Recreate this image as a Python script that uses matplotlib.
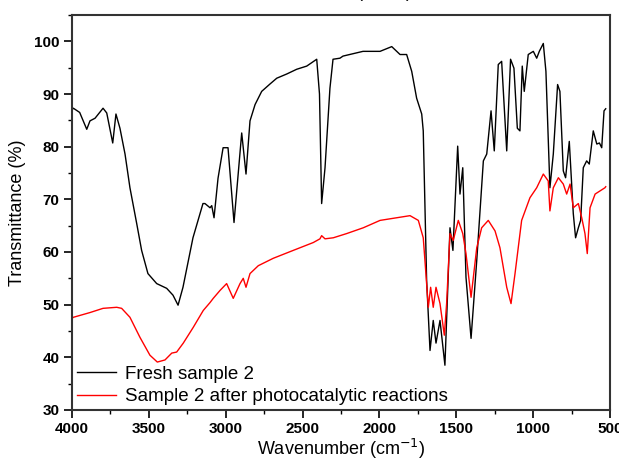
import matplotlib
matplotlib.use("Agg")
import matplotlib.pyplot as plt
from matplotlib.ticker import MultipleLocator

# --- data (wavenumber in cm-1, transmittance in %) ---
fresh_wn = [4000, 3991, 3950, 3904, 3883, 3850, 3798, 3774, 3735, 3714, 3688, 3655,
            3623, 3579, 3547, 3506, 3449, 3384, 3343, 3310, 3278, 3213, 3148, 3135,
            3102, 3091, 3076, 3050, 3017, 2985, 2946, 2896, 2868, 2842, 2809, 2766,
            2712, 2668, 2603, 2538, 2473, 2408, 2390, 2376, 2354, 2322, 2302, 2257,
            2237, 2107, 1996, 1920, 1866, 1823, 1790, 1758, 1725, 1715, 1693, 1671,
            1650, 1632, 1606, 1574, 1541, 1522, 1491, 1476, 1458, 1437, 1404, 1367,
            1324, 1302, 1274, 1253, 1227, 1205, 1172, 1147, 1125, 1103, 1086, 1071,
            1058, 1032, 999, 977, 960, 934, 917, 891, 869, 841, 826, 804, 789, 765,
            739, 724, 706, 691, 674, 652, 635, 609, 586, 569, 554, 539, 528]
fresh_t = [87.0, 87.3, 86.5, 83.3, 84.9, 85.4, 87.3, 86.4, 80.7, 86.2, 83.5, 78.6,
           72.2, 65.4, 60.3, 55.9, 54.0, 53.1, 51.8, 49.9, 53.3, 62.7, 69.2, 69.2,
           68.4, 68.8, 66.5, 74.0, 79.8, 79.8, 65.6, 82.6, 74.8, 84.9, 88.0, 90.5,
           91.9, 93.0, 93.8, 94.7, 95.3, 96.6, 90.0, 69.2, 76.0, 91.1, 96.6, 96.8,
           97.2, 98.1, 98.1, 99.0, 97.5, 97.5, 94.3, 89.2, 86.2, 83.0, 54.6, 41.3,
           47.0, 42.7, 47.0, 38.5, 64.6, 60.3, 80.1, 71.0, 76.0, 55.2, 43.6, 58.4,
           77.3, 78.6, 86.8, 79.2, 95.6, 96.2, 79.2, 96.6, 94.9, 83.5, 83.0, 95.3,
           90.5, 97.5, 98.1, 96.8, 98.1, 99.6, 94.3, 72.2, 78.6, 91.8, 90.5, 75.4,
           74.1, 81.0, 67.3, 62.7, 64.6, 66.0, 76.0, 77.3, 76.7, 83.0, 80.5, 80.7,
           79.8, 86.8, 87.2]

after_wn = [4000, 3991, 3883, 3798, 3709, 3677, 3623, 3558, 3493, 3445, 3395, 3351,
            3319, 3276, 3211, 3146, 3102, 3081, 3037, 2994, 2951, 2907, 2886, 2868,
            2842, 2788, 2691, 2561, 2430, 2387, 2376, 2354, 2300, 2213, 2105, 1996,
            1888, 1801, 1747, 1715, 1704, 1682, 1667, 1650, 1632, 1606, 1578, 1563,
            1541, 1520, 1487, 1458, 1437, 1404, 1367, 1335, 1292, 1248, 1216, 1172,
            1144, 1118, 1075, 1021, 977, 934, 902, 891, 869, 836, 804, 782, 760,
            739, 706, 684, 663, 648, 630, 597, 565, 533, 528]
after_t = [47.4, 47.6, 48.5, 49.3, 49.5, 49.3, 47.6, 43.8, 40.4, 39.1, 39.5, 40.8,
           41.0, 42.7, 45.7, 48.9, 50.4, 51.2, 52.7, 54.0, 51.2, 54.0, 55.0, 53.3,
           55.9, 57.4, 58.8, 60.3, 61.8, 62.5, 63.1, 62.5, 62.7, 63.5, 64.6, 66.0,
           66.5, 66.9, 66.0, 62.7, 58.4, 49.5, 53.3, 49.5, 53.3, 50.2, 44.2, 50.2,
           63.5, 62.2, 66.0, 63.5, 59.7, 51.4, 60.8, 64.6, 66.0, 64.0, 60.8, 53.3,
           50.2, 55.9, 66.0, 70.3, 72.2, 74.8, 73.5, 67.8, 72.2, 74.1, 72.9, 71.0,
           72.9, 68.4, 69.2, 66.5, 63.5, 59.7, 68.4, 71.0, 71.6, 72.2, 72.4]

labels = ["Fresh sample 2", "Sample 2 after photocatalytic reactions"]

# --- plot ---
fig = plt.figure(figsize=(6.19, 4.62), dpi=100)
ax = fig.add_axes([0.1163, 0.1126, 0.8692, 0.8549])

ax.plot(fresh_wn, fresh_t, color="black", lw=1.0, label=labels[0])
ax.plot(after_wn, after_t, color="red", lw=1.0, label=labels[1])

ax.set_xlim(4000, 500)
ax.set_ylim(30, 105)
ax.xaxis.set_major_locator(MultipleLocator(500))
ax.xaxis.set_minor_locator(MultipleLocator(250))
ax.yaxis.set_minor_locator(MultipleLocator(5))
ax.set_yticks(range(30, 101, 10))

ax.tick_params(which="major", direction="out", length=6, width=1.2, labelsize=11, pad=3)
ax.tick_params(which="minor", direction="out", length=3, width=1.0)
for lab in ax.get_xticklabels() + ax.get_yticklabels():
    lab.set_fontweight("bold")
    lab.set_family("Liberation Sans")
for sp in ax.spines.values():
    sp.set_linewidth(1.5)
    sp.set_color("#333333")

ax.set_xlabel("Wavenumber (cm$^{-1}$)", fontsize=13, family="Liberation Sans", labelpad=0)
ax.set_ylabel("Transmittance (%)", fontsize=13, family="Liberation Sans", labelpad=6)

ax.legend(loc="lower left", frameon=False, handlelength=2.1, handletextpad=0.5,
          borderaxespad=0.05, borderpad=0.2, labelspacing=0.3,
          prop={"family": "Liberation Sans", "size": 13.5})

# remnant of the caption from the panel above, cut off at the top edge
fig.text(0.62, 1.018, "(cm$^{-1}$)", ha="center", va="center", fontsize=13,
         family="Liberation Sans")

fig.savefig("out.png", dpi=100)
